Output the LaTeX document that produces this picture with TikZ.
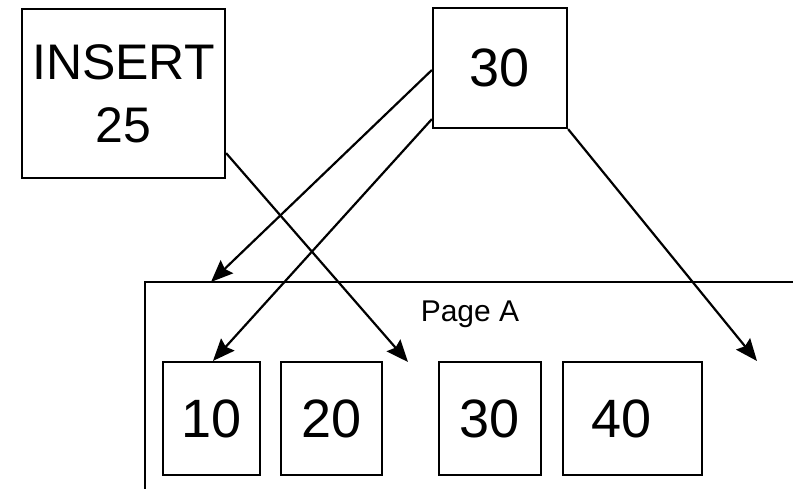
\documentclass[tikz,border=0pt]{standalone}
\usepackage{fontspec}
\setmainfont{Liberation Sans}
\usetikzlibrary{arrows.meta}
\begin{document}
\begin{tikzpicture}[x=1pt,y=-1pt,
  box/.style={draw,line width=2.2pt,inner sep=0pt,anchor=center},
  big/.style={font=\fontsize{50}{63}\selectfont,align=center},
  num/.style={font=\fontsize{54}{60}\selectfont},
  arr/.style={line width=2.2pt,-{Stealth[length=22pt,width=18pt,inset=3pt]}}]
\useasboundingbox (0,0) rectangle (793,489);
\fill[white] (0,0) rectangle (793,489);
% top boxes
\node[box,big,minimum width=203pt,minimum height=169pt] (ins) at (123.5,93.5) {INSERT\\25};
\node[box,num,minimum width=134pt,minimum height=120pt] (root) at (500,68) {30};
% page A frame
\coordinate (pbl) at (145,489);
\coordinate (ptl) at (145,282);
\coordinate (ptr) at (793,282);
\draw[line width=2.2pt] (pbl) -- (ptl) -- (ptr);
\node[font=\fontsize{30}{36}\selectfont] (pagea) at (470,314) {Page A};
% leaf boxes
\node[box,num,minimum width=97pt,minimum height=113pt] (n10) at (211.5,418.5) {10};
\node[box,num,minimum width=101pt,minimum height=113pt] (n20) at (331.5,418.5) {20};
\node[box,num,minimum width=102pt,minimum height=113pt] (n30) at (490,418.5) {30};
\node[box,num,minimum width=139pt,minimum height=113pt] (n40) at (632.5,418.5) {\hspace*{-22pt}40};
% arrow targets
\coordinate (pA) at (211,282);
\coordinate (gap) at (408,362);
\coordinate (right) at (757,361);
% arrows
\draw[arr] ([yshift=-2pt]root.west) -- (pA);
\draw[arr] ([yshift=10pt]root.south west) -- ([xshift=1.5pt]n10.north);
\draw[arr] ([yshift=26pt]ins.south east) -- (gap);
\draw[arr] (root.south east) -- (right);
\end{tikzpicture}
\end{document}
